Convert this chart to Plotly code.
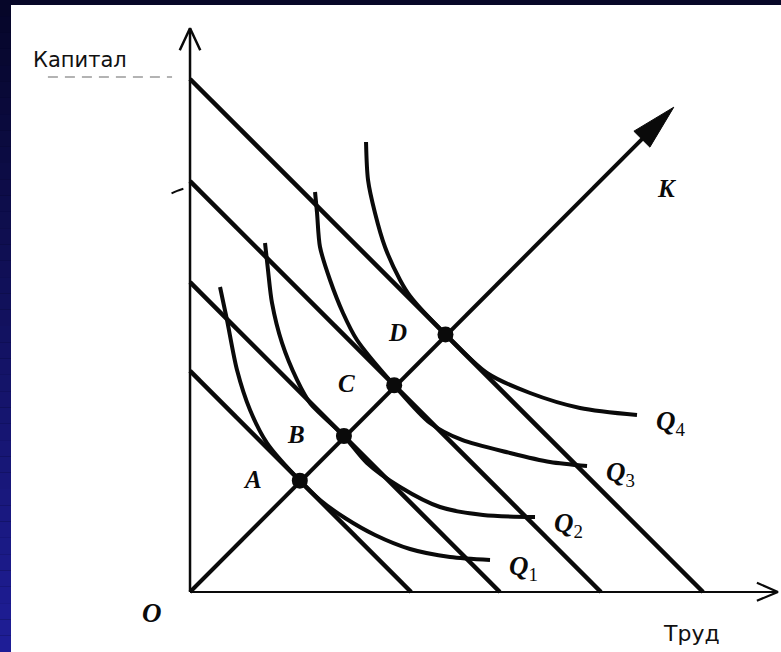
import numpy as np
import plotly.graph_objects as go

# ---------------- data (units of labour / capital) ----------------
isocost_intercepts = [4.31, 6.04, 8.01, 10.0]

point_names = ["A", "B", "C", "D"]
point_L = [2.14, 3.00, 3.98, 4.98]
point_K = [2.17, 3.04, 4.03, 5.02]

ray_end_L = 9.43
ray_end_K = 9.45

q_names = ["Q1", "Q2", "Q3", "Q4"]
q1_L = [0.585, 0.721, 0.916, 1.170, 1.501, 2.14, 2.534, 3.021, 3.606, 4.288, 5.068, 5.848]
q1_K = [5.945, 5.302, 4.327, 3.548, 2.904, 2.17, 1.793, 1.442, 1.111, 0.838, 0.682, 0.624]
q2_L = [1.462, 1.520, 1.598, 1.793, 2.086, 2.339, 3.00, 3.450, 4.094, 4.873, 5.712, 6.725]
q2_K = [6.803, 6.277, 5.634, 4.854, 4.133, 3.684, 3.04, 2.515, 2.047, 1.657, 1.501, 1.462]
q3_L = [2.437, 2.476, 2.534, 2.729, 2.982, 3.255, 3.98, 4.678, 5.302, 6.238, 7.018, 7.739]
q3_K = [7.797, 7.388, 6.725, 6.082, 5.439, 4.912, 4.03, 3.294, 2.963, 2.710, 2.534, 2.456]
q4_L = [3.431, 3.470, 3.606, 3.801, 4.094, 4.288, 4.98, 5.789, 6.628, 7.602, 8.713]
q4_K = [8.772, 8.031, 7.388, 6.725, 6.082, 5.770, 5.02, 4.269, 3.879, 3.587, 3.450]

y_axis_top = 10.99
x_axis_end = 11.46
y_title = "Капитал"
x_title = "Труд"
origin_label = "O"
ray_label = "K"

# ---------------- layout geometry ----------------
W, H = 781, 652
X_RANGE = [-3.704, 11.520]
Y_RANGE = [-1.170, 11.540]

fig = go.Figure()

BLACK = "#0a0a0a"

# isocost lines
for I in isocost_intercepts:
    fig.add_trace(go.Scatter(x=[0, I], y=[I, 0], mode="lines",
                             line=dict(color=BLACK, width=4.5),
                             hoverinfo="skip"))

# isoquants
for qL, qK in [(q1_L, q1_K), (q2_L, q2_K), (q3_L, q3_K), (q4_L, q4_K)]:
    fig.add_trace(go.Scatter(x=qL, y=qK, mode="lines",
                             line=dict(color=BLACK, width=4, shape="spline", smoothing=0.8),
                             hoverinfo="skip"))

# expansion ray with filled arrowhead
d = np.array([ray_end_L, ray_end_K])
u = d / np.linalg.norm(d)
perp = np.array([-u[1], u[0]])
head_len, head_half = 0.88, 0.22
base = d - u * head_len
fig.add_trace(go.Scatter(x=[0, base[0] + u[0] * 0.1], y=[0, base[1] + u[1] * 0.1], mode="lines",
                         line=dict(color=BLACK, width=4), hoverinfo="skip"))
tri = [d, base + perp * head_half, base - perp * head_half, d]
fig.add_trace(go.Scatter(x=[p[0] for p in tri], y=[p[1] for p in tri], mode="lines",
                         fill="toself", fillcolor=BLACK,
                         line=dict(color=BLACK, width=1), hoverinfo="skip"))

# axes
fig.add_trace(go.Scatter(x=[0, 0], y=[0, y_axis_top], mode="lines",
                         line=dict(color=BLACK, width=2.5), hoverinfo="skip"))
fig.add_trace(go.Scatter(x=[0, x_axis_end], y=[0, 0], mode="lines",
                         line=dict(color=BLACK, width=2.2), hoverinfo="skip"))
# open chevron arrowheads on axes
fig.add_trace(go.Scatter(x=[-0.2, 0, 0.2], y=[y_axis_top - 0.43, y_axis_top, y_axis_top - 0.43],
                         mode="lines", line=dict(color=BLACK, width=2.5), hoverinfo="skip"))
fig.add_trace(go.Scatter(x=[x_axis_end - 0.41, x_axis_end, x_axis_end - 0.41], y=[0.18, 0, -0.17],
                         mode="lines", line=dict(color=BLACK, width=2.2), hoverinfo="skip"))

# dashed guide to top intercept
top_I = isocost_intercepts[-1]
fig.add_trace(go.Scatter(x=[-2.77, -0.35], y=[top_I + 0.04, top_I + 0.04], mode="lines",
                         line=dict(color="#9a9a9a", width=1.5, dash="10px,7px"), hoverinfo="skip"))
# small tick near the second intercept
I2 = isocost_intercepts[2]
fig.add_trace(go.Scatter(x=[-0.36, -0.25, -0.13], y=[I2 - 0.24, I2 - 0.19, I2 - 0.15], mode="lines",
                         line=dict(color=BLACK, width=2, shape="spline"), hoverinfo="skip"))

# tangency points
fig.add_trace(go.Scatter(x=point_L, y=point_K, mode="markers",
                         marker=dict(color=BLACK, size=16), hoverinfo="skip"))

ital = dict(family="Liberation Serif", size=25, color=BLACK)
ann = []
for n, L, K in zip(point_names, point_L, point_K):
    ann.append(dict(x=L - 0.93, y=K + 0.03, text=f"<i><b>{n}</b></i>", showarrow=False,
                    font=ital, xanchor="center", yanchor="middle"))
for n, qL, qK in zip(q_names, [q1_L, q2_L, q3_L, q4_L], [q1_K, q2_K, q3_K, q4_K]):
    ann.append(dict(x=qL[-1] + 0.66, y=qK[-1] - 0.16,
                    text=f"<i><b>{n[0]}</b></i><sub>{n[1]}</sub>", showarrow=False,
                    font=dict(family="Liberation Serif", size=27, color=BLACK),
                    xanchor="center", yanchor="middle"))
ann.append(dict(x=ray_end_L - 0.13, y=7.875, text=f"<i><b>{ray_label}</b></i>", showarrow=False,
                font=ital, xanchor="center", yanchor="middle"))
ann.append(dict(x=-0.74, y=-0.41, text=f"<i><b>{origin_label}</b></i>", showarrow=False,
                font=dict(family="Liberation Serif", size=27, color=BLACK),
                xanchor="center", yanchor="middle"))
ann.append(dict(x=-2.144, y=10.37, text=y_title, showarrow=False,
                font=dict(family="DejaVu Sans", size=21, color="#111"),
                xanchor="center", yanchor="middle"))
ann.append(dict(x=9.766, y=-0.80, text=x_title, showarrow=False,
                font=dict(family="DejaVu Sans", size=22, color="#111"),
                xanchor="center", yanchor="middle"))

# background: dark navy frame with gradient strip on the left, white panel
shapes = []
left_w = 11 / W
top_h = 5 / H
n = 40
c_top = np.array([6, 6, 40])
c_bot = np.array([31, 30, 152])
for i in range(n):
    t = (i + 0.5) / n
    c = (c_top * (1 - t) + c_bot * t).astype(int)
    shapes.append(dict(type="rect", xref="paper", yref="paper",
                       x0=0, x1=left_w + 0.0005, y0=1 - (i + 1) / n, y1=1 - i / n,
                       fillcolor=f"rgb({c[0]},{c[1]},{c[2]})", line=dict(width=0), layer="below"))
shapes.append(dict(type="rect", xref="paper", yref="paper", x0=left_w, x1=1, y0=1 - top_h, y1=1,
                   fillcolor="rgb(7,7,40)", line=dict(width=0), layer="below"))
shapes.append(dict(type="rect", xref="paper", yref="paper", x0=left_w, x1=1, y0=0, y1=1 - top_h,
                   fillcolor="white", line=dict(width=0), layer="below"))

fig.update_layout(
    width=W, height=H,
    margin=dict(l=0, r=0, t=0, b=0),
    paper_bgcolor="rgb(7,7,40)",
    plot_bgcolor="rgba(0,0,0,0)",
    showlegend=False,
    xaxis=dict(range=X_RANGE, visible=False, fixedrange=True),
    yaxis=dict(range=Y_RANGE, visible=False, fixedrange=True),
    shapes=shapes,
    annotations=ann,
)

fig.write_html("out.html",
               config={"displayModeBar": False},
               post_script="document.body.style.margin='0';document.body.style.overflow='hidden';")
